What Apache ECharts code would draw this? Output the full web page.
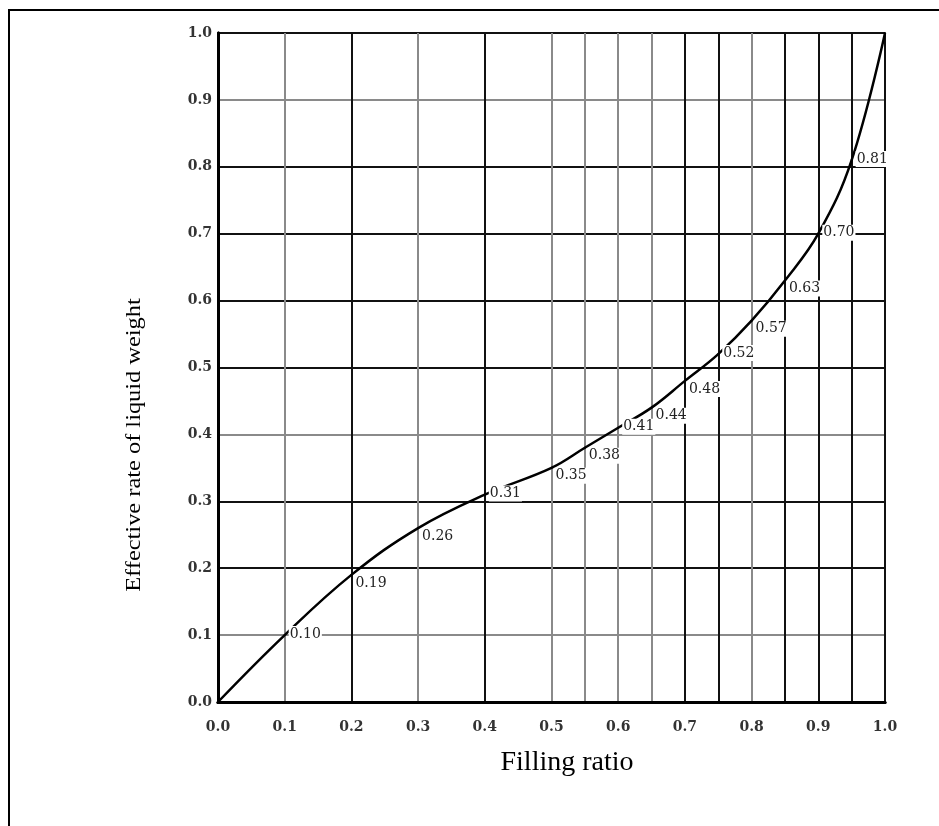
<!DOCTYPE html>
<html>
<head>
<meta charset="utf-8">
<script src="https://cdn.jsdelivr.net/npm/echarts@6/dist/echarts.min.js"></script>
<style>
  html, body { margin: 0; padding: 0; background: #fff; }
  #grafico { width: 939px; height: 826px; }
</style>
</head>
<body>
<div id="grafico"></div>
<script>
// Datos
const fillingRatio = [0, 0.1, 0.2, 0.3, 0.4, 0.5, 0.55, 0.6, 0.65, 0.7, 0.75, 0.8, 0.85, 0.9, 0.95, 1.0];
const effectiveRate = [0, 0.10, 0.19, 0.26, 0.31, 0.35, 0.38, 0.41, 0.44, 0.48, 0.52, 0.57, 0.63, 0.70, 0.81, 1.0];
const pointLabels = ['', '0.10', '0.19', '0.26', '0.31', '0.35', '0.38', '0.41', '0.44', '0.48', '0.52', '0.57', '0.63', '0.70', '0.81', ''];
const xTickLabels = ['0.0', '0.1', '0.2', '0.3', '0.4', '0.5', '0.6', '0.7', '0.8', '0.9', '1.0'];
const yTickLabels = ['0.0', '0.1', '0.2', '0.3', '0.4', '0.5', '0.6', '0.7', '0.8', '0.9', '1.0'];

// Colores de las lineas de la cuadricula (escaneo: unas negras, otras grises)
const NEGRO = '#111';
const GRIS = '#8a8a8a';
const NADA = 'rgba(0,0,0,0)';
// x cada 0.05: 0, .05, .1, ... 1.0
const coloresX = [NEGRO, NADA, GRIS, NADA, NEGRO, NADA, GRIS, NADA, NEGRO, NADA,
                  GRIS, GRIS, GRIS, GRIS, NEGRO, NEGRO, GRIS, NEGRO, NEGRO, NEGRO, NEGRO];
// y cada 0.1
const coloresY = [NEGRO, GRIS, NEGRO, NEGRO, GRIS, NEGRO, NEGRO, NEGRO, NEGRO, GRIS, NEGRO];

// Etiquetas: casi todas a la derecha y un poco abajo
const centradas = ['0.10', '0.31', '0.81', '0.41', '0.52', '0.70'];

const fuenteTicks = { fontFamily: 'DejaVu Serif', fontSize: 14, fontWeight: 'bold', color: '#333' };

let grafico = echarts.init(document.getElementById('grafico'));

let datos = fillingRatio.map((x, i) => {
    let texto = pointLabels[i];
    return {
        value: [x, effectiveRate[i]],
        label: {
            show: texto !== '',
            formatter: texto,
            position: centradas.includes(texto) ? [5, -8] : [4, 1]
        }
    };
});

grafico.setOption({
    animation: false,
    backgroundColor: '#fff',
    grid: { left: 218, right: 54, top: 33, bottom: 124 },
    graphic: [
        {
            type: 'polyline',
            shape: { points: [[9, 826], [9, 10], [939, 10]] },
            style: { stroke: '#000', lineWidth: 2, fill: null }
        },
        {
            // titulo del eje x
            type: 'text',
            x: 567, y: 763,
            style: {
                text: 'Filling ratio',
                font: '28px "Liberation Serif"',
                fill: '#000',
                align: 'center',
                verticalAlign: 'middle'
            }
        },
        {
            // titulo del eje y (en la figura esta algo estirado)
            type: 'text',
            x: 135, y: 445,
            rotation: Math.PI / 2,
            scaleX: 1.22,
            style: {
                text: 'Effective rate of liquid weight',
                font: '20px "Liberation Serif"',
                fill: '#000',
                align: 'center',
                verticalAlign: 'middle'
            }
        }
    ],
    xAxis: [
        {
            type: 'value', min: 0, max: 1, interval: 0.05,
            axisLine: { show: true, lineStyle: { color: '#000', width: 3 } },
            axisTick: { show: false },
            axisLabel: {
                margin: 18,
                ...fuenteTicks,
                formatter: v => {
                    let k = Math.round(v * 20);
                    return k % 2 === 0 ? xTickLabels[k / 2] : '';
                }
            },
            splitLine: { show: true, lineStyle: { color: coloresX, width: 2 } }
        },
        {
            type: 'value', min: 0, max: 1, position: 'top',
            axisLine: { show: true, lineStyle: { color: '#000', width: 3 } },
            axisTick: { show: false }, axisLabel: { show: false }, splitLine: { show: false }
        }
    ],
    yAxis: [
        {
            type: 'value', min: 0, max: 1, interval: 0.1,
            axisLine: { show: true, lineStyle: { color: '#000', width: 3 } },
            axisTick: { show: false },
            axisLabel: {
                margin: 6,
                ...fuenteTicks,
                formatter: v => yTickLabels[Math.round(v * 10)]
            },
            splitLine: { show: true, lineStyle: { color: coloresY, width: 2 } }
        },
        {
            type: 'value', min: 0, max: 1, position: 'right',
            axisLine: { show: true, lineStyle: { color: '#000', width: 3 } },
            axisTick: { show: false }, axisLabel: { show: false }, splitLine: { show: false }
        }
    ],
    series: [
        {
            name: 'Effective rate',
            type: 'line',
            xAxisIndex: 0,
            yAxisIndex: 0,
            data: datos,
            smooth: 0.4,
            symbol: 'circle',
            symbolSize: 2,
            itemStyle: { color: '#000' },
            lineStyle: { color: '#000', width: 2.5 },
            label: {
                fontFamily: 'DejaVu Serif',
                fontSize: 14,
                color: '#222',
                backgroundColor: '#fff',
                padding: [1, 1]
            },
            z: 5
        }
    ]
});
</script>
</body>
</html>
